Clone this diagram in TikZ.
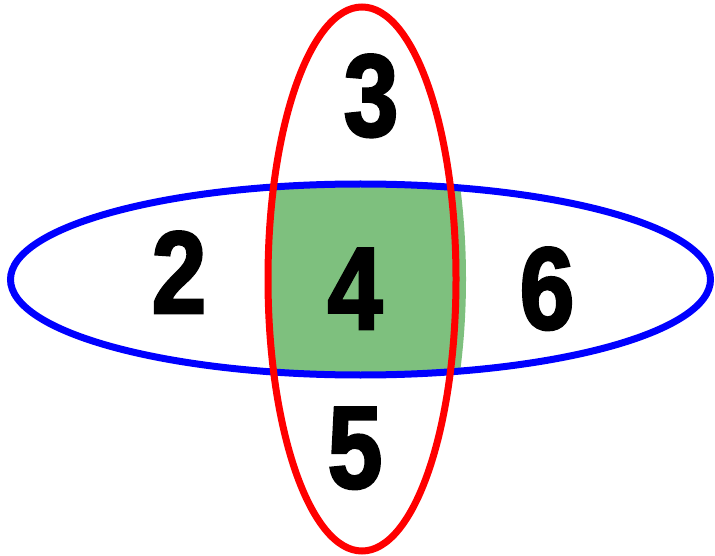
\documentclass[tikz,border=0pt]{standalone}
\usepackage{fontspec}
\newfontfamily\digitfont[FakeBold=2.2,FakeStretch=0.84]{Liberation Sans Bold}
\definecolor{bluering}{RGB}{0,0,255}
\definecolor{redring}{RGB}{255,0,0}
\definecolor{overlapgreen}{RGB}{126,192,126}
\tikzset{
  digit/.style={anchor=base,inner sep=0pt,font=\digitfont\fontsize{117}{117}\selectfont},
  ring/.style={line width=7pt}
}
\begin{document}
\begin{tikzpicture}[x=1pt,y=-1pt]
\useasboundingbox (0,0) rectangle (715,556);
\begin{scope}
  \clip (360.5,279.5) ellipse [x radius=350, y radius=95.5];
  \fill[overlapgreen] (367,279) ellipse [x radius=99, y radius=272];
\end{scope}
\draw[ring,bluering] (360.5,279.5) ellipse [x radius=350, y radius=95.5];
\draw[ring,redring] (362,279) ellipse [x radius=94, y radius=272];
\node[digit] (n2) at (179,313) {2};
\node[digit] (n3) at (371,136) {3};
\node[digit] (n4) at (355,329) {4};
\node[digit] (n5) at (355,488) {5};
\node[digit] (n6) at (547,329) {6};
\end{tikzpicture}
\end{document}
